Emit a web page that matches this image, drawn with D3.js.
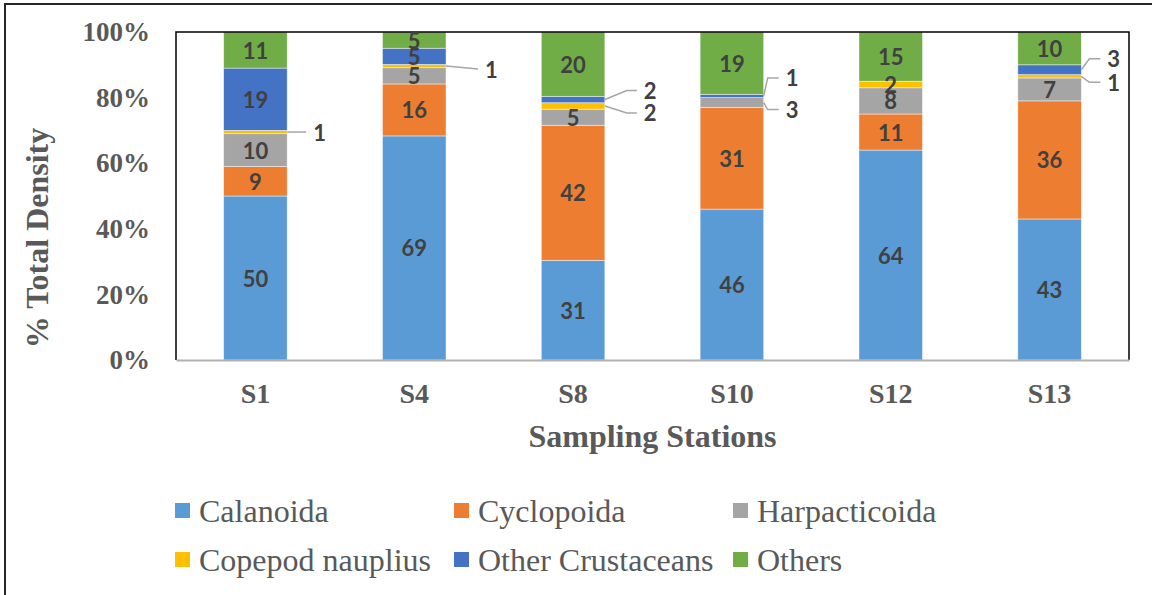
<!DOCTYPE html>
<html>
<head>
<meta charset="utf-8">
<script src="https://cdn.jsdelivr.net/npm/d3@7"></script>
<style>
  body { margin: 0; background: #fff; }
  svg { display: block; }
  .serif { font-family: "Liberation Serif", "Times New Roman", serif; }
</style>
</head>
<body>
<svg id="chart" width="1152" height="595"></svg>
<script>
// Relative density (%) of zooplankton groups per sampling station
const stations = ["S1", "S4", "S8", "S10", "S12", "S13"];
const groups = ["Calanoida", "Cyclopoida", "Harpacticoida", "Copepod nauplius", "Other Crustaceans", "Others"];
const calanoida        = [50, 69, 31, 46, 64, 43];
const cyclopoida       = [9, 16, 42, 31, 11, 36];
const harpacticoida    = [10, 5, 5, 3, 8, 7];
const copepodNauplius  = [1, 1, 2, 0, 2, 1];
const otherCrustaceans = [19, 5, 2, 1, 0, 3];
const others           = [11, 5, 20, 19, 15, 10];
const yTicks = [0, 0.2, 0.4, 0.6, 0.8, 1];

const colors = ["#5B9BD5", "#ED7D31", "#A5A5A5", "#FFC000", "#4472C4", "#70AD47"];

// Small segments whose value labels sit outside the bar on a leader line
const callouts = [
  { station: "S1",  group: "Copepod nauplius",  dy: 0,   elbow: 0,  len: 19 },
  { station: "S4",  group: "Copepod nauplius",  dy: 3,   elbow: 32, len: 32 },
  { station: "S8",  group: "Other Crustaceans", dy: -9,  elbow: 22, len: 32 },
  { station: "S8",  group: "Copepod nauplius",  dy: 7,   elbow: 22, len: 32 },
  { station: "S10", group: "Other Crustaceans", dy: -18, elbow: 4,  len: 15 },
  { station: "S10", group: "Harpacticoida",     dy: 7,   elbow: 4,  len: 15 },
  { station: "S13", group: "Other Crustaceans", dy: -11, elbow: 8,  len: 19 },
  { station: "S13", group: "Copepod nauplius",  dy: 6,   elbow: 8,  len: 19 }
];

const seriesValues = [calanoida, cyclopoida, harpacticoida, copepodNauplius, otherCrustaceans, others];
const rows = stations.map((s, i) => {
  const r = { station: s };
  groups.forEach((g, k) => { r[g] = seriesValues[k][i]; });
  return r;
});

const svg = d3.select("#chart");
const plot = { left: 176, right: 1129, top: 32, bottom: 360 };
const SERIF = "'Liberation Serif', 'Times New Roman', serif";

const x = d3.scaleBand()
  .domain(stations)
  .range([plot.left, plot.right])
  .paddingInner(0.6)
  .paddingOuter(0.3);

const y = d3.scaleLinear().domain([0, 1]).range([plot.bottom, plot.top]);

const color = d3.scaleOrdinal().domain(groups).range(colors);

const stack = d3.stack().keys(groups).offset(d3.stackOffsetExpand);
const layers = stack(rows);

// outer frame
svg.append("path")
  .attr("d", "M5,600 V4 H1160")
  .attr("fill", "none")
  .attr("stroke", "#262626")
  .attr("stroke-width", 2);

// stacked bars
const layerG = svg.append("g").selectAll("g")
  .data(layers)
  .join("g")
  .attr("fill", d => color(d.key));

layerG.selectAll("rect")
  .data(d => d.map(p => ({ key: d.key, p })))
  .join("rect")
  .attr("x", d => x(d.p.data.station))
  .attr("width", x.bandwidth())
  .attr("y", d => y(d.p[1]))
  .attr("height", d => y(d.p[0]) - y(d.p[1]))
  .attr("stroke", "#ffffff")
  .attr("stroke-opacity", 0.6)
  .attr("stroke-width", 0.75);

// plot area border (top, left, right)
svg.append("path")
  .attr("d", `M${plot.left},${plot.bottom} V${plot.top} H${plot.right} V${plot.bottom}`)
  .attr("fill", "none")
  .attr("stroke", "#000")
  .attr("stroke-width", 1.5);

// value labels
const labelG = svg.append("g");

function valueText(sel) {
  return sel
    .style("font-family", "Lato, 'Open Sans', sans-serif")
    .style("font-weight", 700)
    .style("font-size", "22px")
    .attr("fill", "#404040")
    .attr("dominant-baseline", "central");
}

layers.forEach(layer => {
  layer.forEach(p => {
    const v = p.data[layer.key];
    if (!v) return;
    const st = p.data.station;
    const midY = (y(p[0]) + y(p[1])) / 2;
    const co = callouts.find(c => c.station === st && c.group === layer.key);
    if (co) {
      const x0 = x(st) + x.bandwidth();
      const ly = midY + co.dy;
      labelG.append("path")
        .attr("d", `M${x0},${midY} L${x0 + co.elbow},${ly} L${x0 + co.len},${ly}`)
        .attr("fill", "none")
        .attr("stroke", "#A6A6A6")
        .attr("stroke-width", 1.5);
      labelG.append("text")
        .attr("x", x0 + co.len + 7)
        .attr("y", ly)
        .attr("text-anchor", "start")
        .call(valueText)
        .text(v);
    } else {
      labelG.append("text")
        .attr("x", x(st) + x.bandwidth() / 2)
        .attr("y", midY)
        .attr("text-anchor", "middle")
        .call(valueText)
        .text(v);
    }
  });
});

// x axis
const xAxis = svg.append("g")
  .attr("transform", `translate(0,${plot.bottom})`)
  .call(d3.axisBottom(x).tickSize(0).tickPadding(23));
xAxis.select(".domain").attr("stroke", "#B0B0B0").attr("stroke-width", 2);
xAxis.selectAll("text")
  .style("font-family", SERIF)
  .style("font-weight", 700)
  .style("font-size", "28px")
  .attr("fill", "#595959");

// y axis
const yAxis = svg.append("g")
  .attr("transform", `translate(${plot.left},0)`)
  .call(d3.axisLeft(y).tickValues(yTicks).tickFormat(d3.format(".0%")).tickSize(0).tickPadding(26));
yAxis.select(".domain").remove();
yAxis.selectAll("text")
  .style("font-family", SERIF)
  .style("font-weight", 700)
  .style("font-size", "27px")
  .attr("fill", "#595959");

// axis titles
svg.append("text")
  .attr("transform", "translate(37,238) rotate(-90)")
  .attr("text-anchor", "middle")
  .attr("dominant-baseline", "central")
  .style("font-family", SERIF)
  .style("font-weight", 700)
  .style("font-size", "32px")
  .attr("fill", "#595959")
  .text("% Total Density");

svg.append("text")
  .attr("x", (plot.left + plot.right) / 2)
  .attr("y", 447)
  .attr("text-anchor", "middle")
  .style("font-family", SERIF)
  .style("font-weight", 700)
  .style("font-size", "32px")
  .attr("fill", "#595959")
  .text("Sampling Stations");

// legend
const legend = svg.append("g");

groups.forEach((g, i) => {
  const col = i % 3, row = Math.floor(i / 3);
  const lx = 175 + col * 279;
  const cy = 511 + row * 49;
  legend.append("rect")
    .attr("x", lx).attr("y", cy - 8)
    .attr("width", 15).attr("height", 15)
    .attr("fill", color(g));
  legend.append("text")
    .attr("x", lx + 24)
    .attr("y", cy + 10.5)
    .style("font-family", SERIF)
    .style("font-weight", 400)
    .style("font-size", "32px")
    .attr("fill", "#595959")
    .text(g);
});
</script>
</body>
</html>
